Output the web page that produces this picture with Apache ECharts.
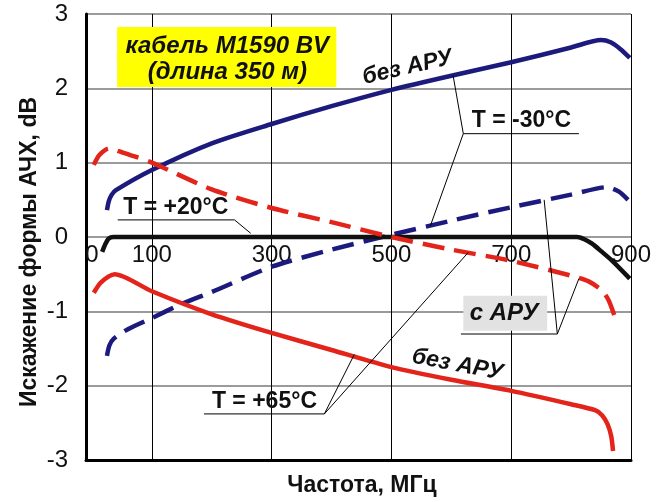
<!DOCTYPE html>
<html>
<head>
<meta charset="utf-8">
<script src="https://cdn.jsdelivr.net/npm/echarts@6/dist/echarts.min.js"></script>
<style>
  html, body { margin: 0; padding: 0; background: #fff; }
  #chart { width: 664px; height: 502px; }
</style>
</head>
<body>
<div id="chart"></div>
<script>
// Frequency-response shape distortion of cable M1590 BV (350 m), by temperature.
const xTickLabels = [0, 100, 300, 500, 700, 900];   // MHz, printed along the zero line
const xGridLines = [100, 300, 500, 700, 900];
const yTicks = [-3, -2, -1, 0, 1, 2, 3];

// T = -30 °C, without AGC
const cold_noAgc = [[25,0.36],[28,0.48],[33,0.57],[40,0.63],[100,0.90],[200,1.26],[300,1.52],[400,1.76],[500,1.98],[600,2.17],[700,2.35],[800,2.55],[850,2.65],[866,2.62],[882,2.53],[898,2.41]];
// T = -30 °C, with AGC
const cold_agc = [[25,-1.60],[29,-1.46],[36,-1.37],[60,-1.24],[100,-1.09],[150,-0.90],[200,-0.74],[300,-0.40],[400,-0.17],[500,0.03],[600,0.22],[700,0.40],[800,0.57],[860,0.67],[880,0.61],[895,0.50]];
// T = +20 °C (reference)
const normal = [[17,-0.20],[22,-0.10],[28,-0.02],[36,0],[810,0],[822,-0.03],[835,-0.09],[850,-0.19],[870,-0.33],[898,-0.56]];
// T = +65 °C, with AGC
const hot_agc = [[3,0.97],[12,1.10],[28,1.19],[50,1.14],[100,1.00],[200,0.64],[300,0.39],[400,0.20],[500,0.00],[600,-0.17],[700,-0.32],[800,-0.52],[830,-0.60],[850,-0.71],[862,-0.84],[872,-1.05]];
// T = +65 °C, without AGC
const hot_noAgc = [[3,-0.75],[14,-0.62],[28,-0.53],[38,-0.50],[100,-0.73],[200,-1.04],[300,-1.29],[400,-1.52],[500,-1.75],[600,-1.92],[700,-2.07],[800,-2.25],[840,-2.33],[852,-2.40],[861,-2.52],[867,-2.68],[870,-2.88]];

const BLUE = '#1d1a7d';
const RED = '#e3241b';
const DASH = [22, 10];
const FONT = 'Arial, "Liberation Sans", sans-serif';

const chart = echarts.init(document.getElementById('chart'), null, { renderer: 'canvas' });

function curve(name, data, color, dashed) {
  return {
    name, type: 'line', data, showSymbol: false, symbol: 'none',
    smooth: 0.25, z: 5, silent: true,
    lineStyle: { color, width: 4.5, type: dashed ? DASH : 'solid', cap: 'butt', join: 'round' }
  };
}

const option = {
  animation: false,
  backgroundColor: '#ffffff',
  grid: { left: 86, right: 33, top: 14, bottom: 42, show: false },
  xAxis: {
    type: 'value', min: -10, max: 900, position: 'bottom',
    axisLine: { show: true, onZero: false, lineStyle: { color: '#000', width: 3 } },
    axisTick: { show: false }, axisLabel: { show: false }, splitLine: { show: false }
  },
  yAxis: {
    type: 'value', min: yTicks[0], max: yTicks[yTicks.length - 1], interval: 1,
    axisLine: { show: true, onZero: false, lineStyle: { color: '#000', width: 3 } },
    axisTick: { show: false },
    axisLabel: { color: '#111', fontSize: 24, fontFamily: FONT, margin: 18 },
    splitLine: { show: true, lineStyle: { color: '#7a7a7a', width: 1.5 } }
  },
  series: [
    {
      name: 'grid', type: 'line', data: [], z: 1, silent: true,
      markLine: {
        silent: true, symbol: 'none', label: { show: false },
        lineStyle: { color: '#000', width: 1, type: 'solid' },
        data: xGridLines.map(v => ({ xAxis: v }))
      }
    },
    curve('T = -30°C без АРУ', cold_noAgc, BLUE, false),
    curve('T = -30°C с АРУ', cold_agc, BLUE, true),
    curve('T = +20°C', normal, '#111', false),
    curve('T = +65°C с АРУ', hot_agc, RED, true),
    curve('T = +65°C без АРУ', hot_noAgc, RED, false)
  ]
};
chart.setOption(option);

// annotation helpers: anchor everything in data coordinates
const P = (x, y) => chart.convertToPixel({ gridIndex: 0 }, [x, y]);
function leader(a, b, w) {
  const p = P(a[0], a[1]), q = P(b[0], b[1]);
  return { type: 'line', z: 20, silent: true,
    shape: { x1: p[0], y1: p[1], x2: q[0], y2: q[1] },
    style: { stroke: '#000', lineWidth: w || 1 } };
}
function label(text, at, opts) {
  const p = P(at[0], at[1]);
  return { type: 'text', z: 25, silent: true, x: p[0], y: p[1],
    rotation: opts.rotation || 0,
    style: { text, fill: '#111', align: 'center', verticalAlign: 'middle',
      font: (opts.style || 'bold') + ' ' + opts.size + 'px ' + FONT } };
}
function box(a, b, color) {
  const p = P(a[0], a[1]), q = P(b[0], b[1]);
  return { type: 'rect', z: 15, silent: true,
    shape: { x: p[0], y: p[1], width: q[0] - p[0], height: q[1] - p[1] },
    style: { fill: color } };
}

// frequency tick labels sit just under the zero line, behind the curves
const tickLabels = xTickLabels.map(v => {
  const p = P(v, 0);
  return { type: 'text', z: 1, silent: true, x: p[0], y: p[1] + 6,
    style: { text: String(v), fill: '#111', align: 'center', verticalAlign: 'top',
      font: '24px ' + FONT } };
});

const graphics = tickLabels.concat([
  // cable caption
  box([42, 2.825], [408, 2.018], '#ffff00'),
  label('кабель M1590 BV', [226, 2.56], { size: 24, style: 'italic bold' }),
  label('(длина 350 м)', [226, 2.21], { size: 24, style: 'italic bold' }),

  // T = -30 °C
  label('без АРУ', [527, 2.28], { size: 23, style: 'italic bold', rotation: 13 * Math.PI / 180 }),
  label('T = -30°C', [717, 1.56], { size: 23 }),
  leader([620, 1.39], [813, 1.39]),
  leader([620, 1.39], [603, 2.17]),
  leader([620, 1.39], [565, 0.15]),

  // T = +20 °C
  label('T = +20°C', [140, 0.39], { size: 23 }),
  leader([43, 0.23], [238, 0.23]),
  leader([238, 0.23], [265, 0.05]),

  // with AGC
  box([620, -0.79], [760, -1.26], '#e2e2e2'),
  label('с АРУ', [688, -1.03], { size: 24, style: 'italic bold' }),
  leader([616, -1.305], [777, -1.305]),
  leader([777, -1.305], [755, 0.50]),
  leader([777, -1.305], [813, -0.56]),

  // T = +65 °C
  label('без АРУ', [610, -1.72], { size: 23, style: 'italic bold', rotation: -11 * Math.PI / 180 }),
  label('T = +65°C', [288, -2.22], { size: 23 }),
  leader([187, -2.38], [388, -2.38]),
  leader([388, -2.38], [438, -1.58]),
  leader([388, -2.38], [628, -0.21]),

  // axis titles
  { type: 'text', z: 25, silent: true, x: 30, y: 252, rotation: Math.PI / 2,
    style: { text: 'Искажение формы АЧХ, dB', fill: '#111', align: 'center', verticalAlign: 'middle',
      font: 'bold 23px ' + FONT } },
  { type: 'text', z: 25, silent: true, x: 362, y: 486,
    style: { text: 'Частота, МГц', fill: '#111', align: 'center', verticalAlign: 'middle',
      font: 'bold 23px ' + FONT } }
]);
chart.setOption({ graphic: graphics });
</script>
</body>
</html>
